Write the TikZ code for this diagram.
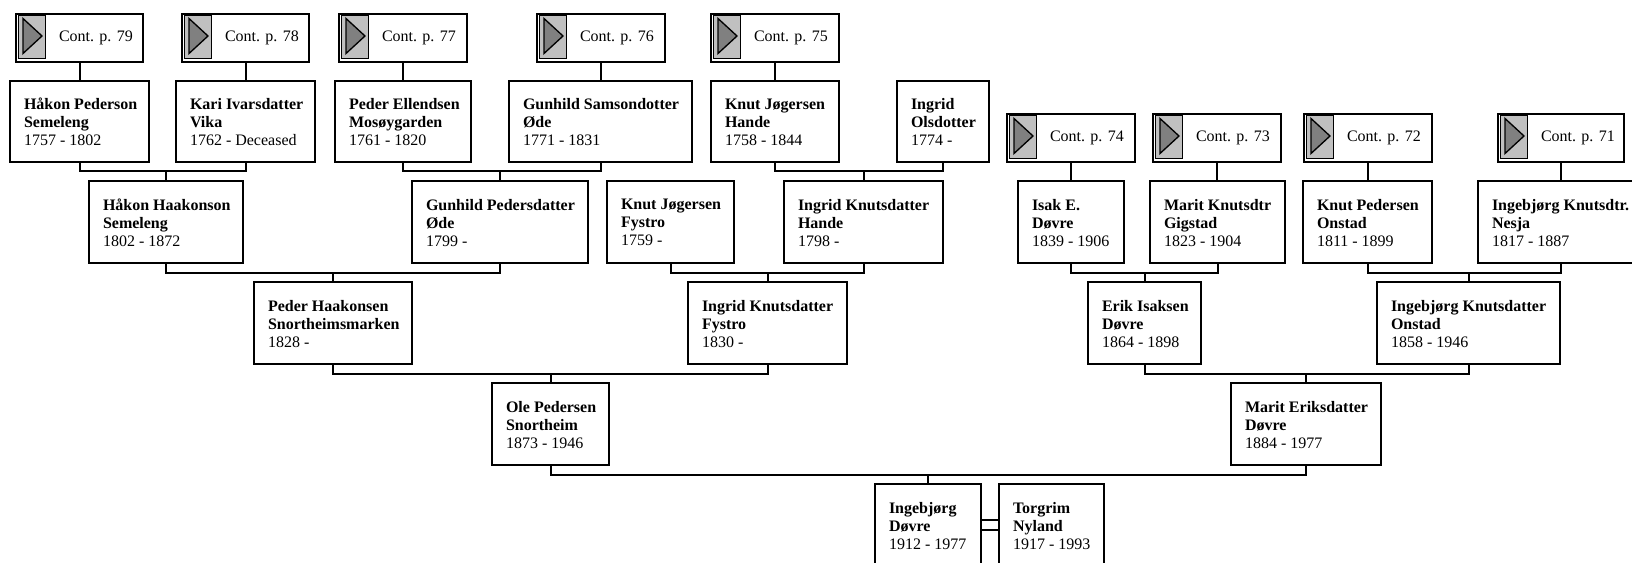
\documentclass[tikz,border=0pt]{standalone}
\usepackage{fontspec}
\setmainfont{Liberation Serif}
\usetikzlibrary{calc}
\definecolor{iconlight}{HTML}{C0C0C0}
\definecolor{icondark}{HTML}{808080}
\tikzset{
  person/.style={draw=black,line width=1.5pt,fill=white,rectangle,inner sep=0pt,outer sep=0pt},
  caption/.style={anchor=west,inner sep=0pt,outer sep=0pt,align=left,font=\fontsize{12pt}{13.5pt}\selectfont},
  conn/.style={draw=black,line width=1.5pt,line cap=butt,line join=miter},
  iconbg/.style={draw=black,line width=0.7pt,fill=iconlight},
  icontri/.style={draw=black,line width=1pt,fill=icondark,line join=miter}
}
% person box: name, x1, y1, x2, y2, first line, second line, dates
\newcommand{\pbox}[8]{%
  \pgfmathsetmacro{\bw}{#4-#2}\pgfmathsetmacro{\bh}{#5-#3}%
  \pgfmathsetmacro{\cx}{(#2+#4)/2}\pgfmathsetmacro{\cy}{(#3+#5)/2}%
  \node[person,minimum width=\bw*0.75pt,minimum height=\bh*0.75pt] (#1) at (\cx,\cy) {};%
  \node[caption] (#1t) at ($(#1.west)+(14,0.6)$) {\textbf{#6}\\\textbf{#7}\\#8};%
}
% continuation box: name, x1, y1, x2, page
\newcommand{\pcont}[5]{%
  \pgfmathsetmacro{\bw}{#4-#2}\pgfmathsetmacro{\bh}{48}%
  \pgfmathsetmacro{\cx}{(#2+#4)/2}\pgfmathsetmacro{\cy}{#3+24}%
  \node[person,minimum width=\bw*0.75pt,minimum height=\bh*0.75pt] (#1) at (\cx,\cy) {};%
  \node[caption] (#1t) at ($(#1.west)+(43,-0.3)$) {Cont. p. #5};%
  \draw[iconbg] (#2+2,#3+1) rectangle (#2+29.3,#3+44);%
  \draw[icontri] (#2+7,#3+4.5) -- (#2+26,#3+22) -- (#2+7,#3+39.5) -- cycle;%
}
% parents a,b joined to child c
\newcommand{\couple}[3]{%
  \draw[conn] (#1.south) -- ++(0,9.5) -| (#2.south);%
  \draw[conn] (#3.north) -- ++(0,-9.5);%
}
\begin{document}
\begin{tikzpicture}[x=0.75pt,y=-0.75pt]
\useasboundingbox (0,0) rectangle (1632,563);
\clip (0,0) rectangle (1632,563);
\fill[white] (0,0) rectangle (1632,563);
\pcont{p79}{16}{14}{143}{79}
\pcont{p78}{182}{14}{309}{78}
\pcont{p77}{339}{14}{467}{77}
\pcont{p76}{537}{14}{665}{76}
\pcont{p75}{711}{14}{839}{75}
\pcont{p74}{1007}{114}{1135}{74}
\pcont{p73}{1153}{114}{1281}{73}
\pcont{p72}{1304}{114}{1432}{72}
\pcont{p71}{1498}{114}{1624}{71}
\pbox{a1}{10}{81}{149}{162}{Håkon Pederson}{Semeleng}{1757 - 1802}
\pbox{a2}{176}{81}{315}{162}{Kari Ivarsdatter}{Vika}{1762 - Deceased}
\pbox{a3}{335}{81}{471}{162}{Peder Ellendsen}{Mosøygarden}{1761 - 1820}
\pbox{a4}{509}{81}{692}{162}{Gunhild Samsondotter}{Øde}{1771 - 1831}
\pbox{a5}{711}{81}{839}{162}{Knut Jøgersen}{Hande}{1758 - 1844}
\pbox{a6}{897}{81}{989}{162}{Ingrid}{Olsdotter}{1774 -}
\pbox{b1}{89}{181}{243}{263}{Håkon Haakonson}{Semeleng}{1802 - 1872}
\pbox{b2}{412}{181}{588}{263}{Gunhild Pedersdatter}{Øde}{1799 -}
\pbox{b3}{607}{181}{734}{263}{Knut Jøgersen}{Fystro}{1759 -}
\pbox{b4}{784}{181}{943}{263}{Ingrid Knutsdatter}{Hande}{1798 -}
\pbox{b5}{1018}{181}{1124}{263}{Isak E.}{Døvre}{1839 - 1906}
\pbox{b6}{1150}{181}{1285}{263}{Marit Knutsdtr}{Gigstad}{1823 - 1904}
\pbox{b7}{1303}{181}{1432}{263}{Knut Pedersen}{Onstad}{1811 - 1899}
\pbox{b8}{1478}{181}{1644}{263}{Ingebjørg Knutsdtr.}{Nesja}{1817 - 1887}
\pbox{c1}{254}{282}{412}{364}{Peder Haakonsen}{Snortheimsmarken}{1828 -}
\pbox{c2}{688}{282}{847}{364}{Ingrid Knutsdatter}{Fystro}{1830 -}
\pbox{c3}{1088}{282}{1201}{364}{Erik Isaksen}{Døvre}{1864 - 1898}
\pbox{c4}{1377}{282}{1560}{364}{Ingebjørg Knutsdatter}{Onstad}{1858 - 1946}
\pbox{d1}{492}{383}{609}{465}{Ole Pedersen}{Snortheim}{1873 - 1946}
\pbox{d2}{1231}{383}{1381}{465}{Marit Eriksdatter}{Døvre}{1884 - 1977}
\pbox{e1}{875}{484}{981}{566}{Ingebjørg}{Døvre}{1912 - 1977}
\pbox{e2}{999}{484}{1104}{566}{Torgrim}{Nyland}{1917 - 1993}
% continuation stems
\draw[conn] (p79.south) -- (p79.south |- a1.north);
\draw[conn] (p78.south) -- (p78.south |- a2.north);
\draw[conn] (p77.south) -- (p77.south |- a3.north);
\draw[conn] (p76.south) -- (p76.south |- a4.north);
\draw[conn] (p75.south) -- (p75.south |- a5.north);
\draw[conn] (p74.south) -- (p74.south |- b5.north);
\draw[conn] (p73.south) -- (p73.south |- b6.north);
\draw[conn] (p72.south) -- (p72.south |- b7.north);
\draw[conn] (p71.south) -- (p71.south |- b8.north);
% families
\couple{a1}{a2}{b1}
\couple{a3}{a4}{b2}
\couple{a5}{a6}{b4}
\couple{b1}{b2}{c1}
\couple{b3}{b4}{c2}
\couple{b5}{b6}{c3}
\couple{b7}{b8}{c4}
\couple{c1}{c2}{d1}
\couple{c3}{c4}{d2}
\couple{d1}{d2}{e1}
% marriage
\draw[conn] ([yshift=3.4pt]e1.east) -- ([yshift=3.4pt]e2.west);
\draw[conn] ([yshift=-3.4pt]e1.east) -- ([yshift=-3.4pt]e2.west);
\end{tikzpicture}
\end{document}
